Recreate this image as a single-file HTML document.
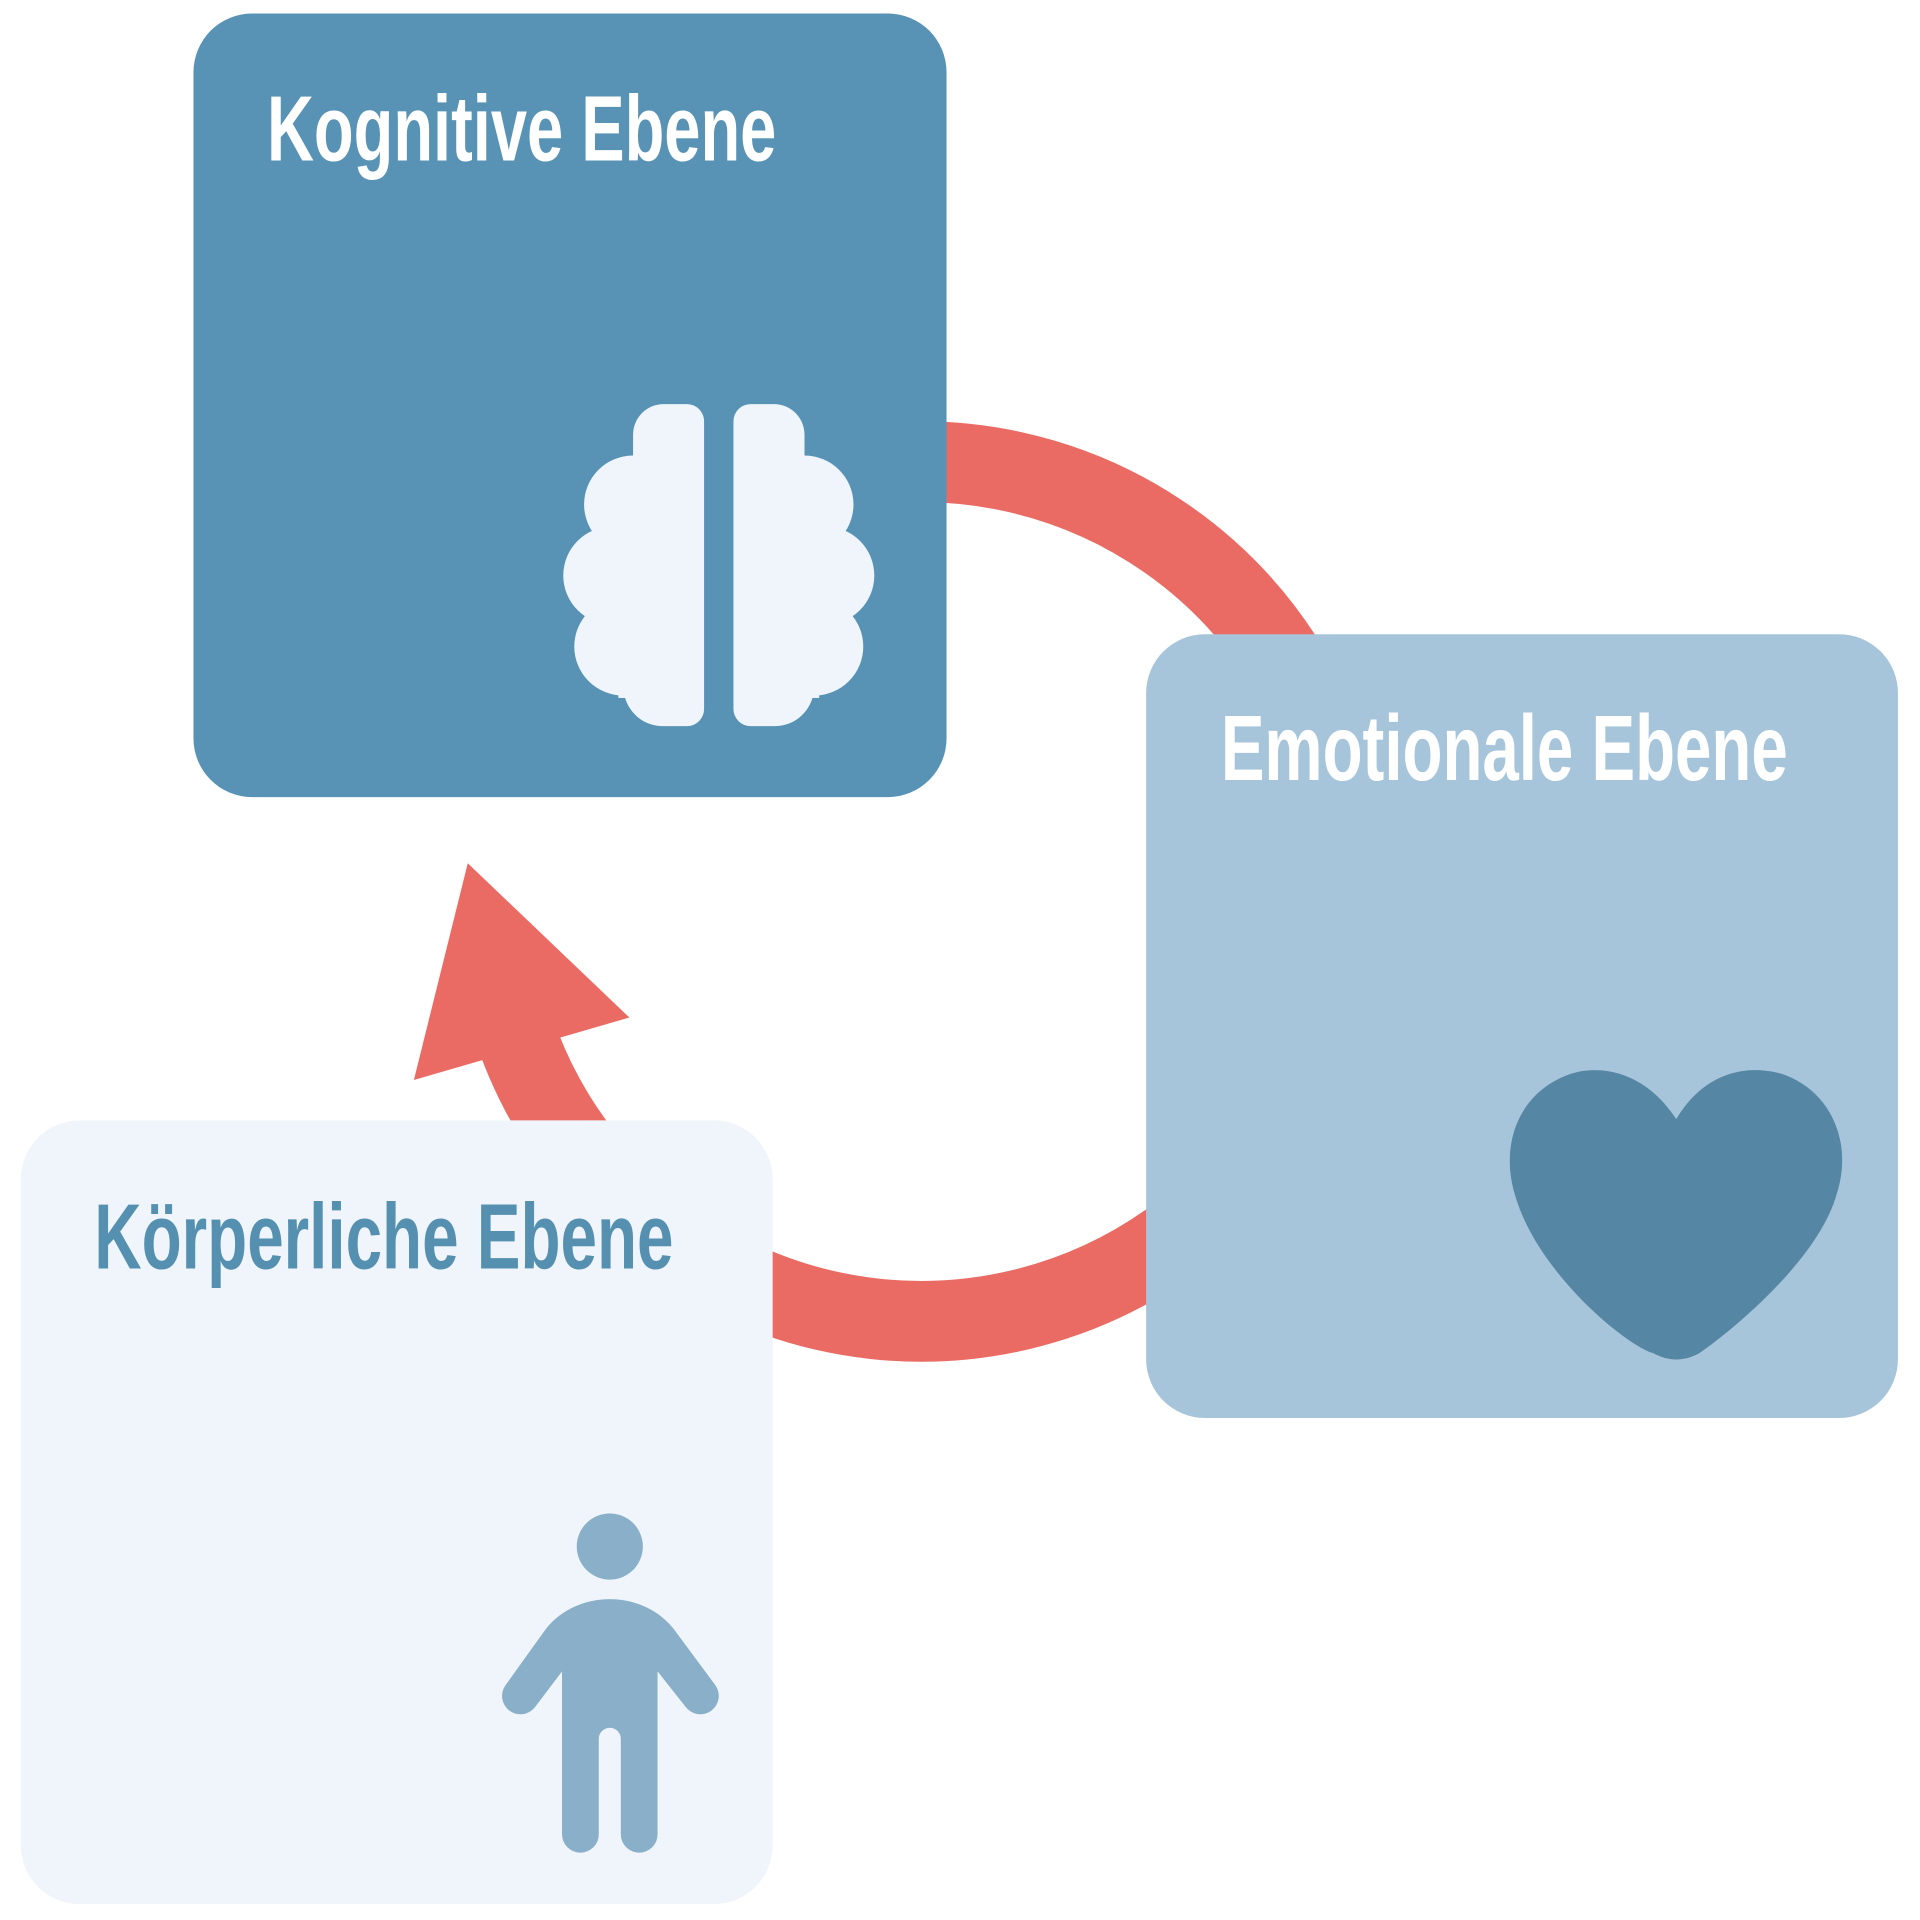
<!DOCTYPE html>
<html><head><meta charset="utf-8"><style>html,body{margin:0;padding:0;background:#fff}svg{display:block}</style></head>
<body>
<svg width="1920" height="1920" viewBox="0 0 1568 1568" xmlns="http://www.w3.org/2000/svg">
<rect width="1568" height="1568" fill="#fff"/>
<path d="M 700 381 A 351 351 0 1 1 418 835" fill="none" stroke="#e96b63" stroke-width="66"/>
<polygon points="382,705 514,831 338,882" fill="#e96b63"/>
<rect x="158" y="11" width="615" height="640" rx="48" fill="#5893b5"/>
<rect x="936" y="518" width="614" height="640" rx="48" fill="#a7c5da"/>
<rect x="17" y="915" width="614" height="640" rx="48" fill="#eff5fb"/>
<g font-family="Liberation Sans, sans-serif" font-size="76" font-weight="bold">
<text x="218" y="131" fill="#fff" textLength="416" lengthAdjust="spacingAndGlyphs">Kognitive Ebene</text>
<text x="997" y="637" fill="#fff" textLength="463" lengthAdjust="spacingAndGlyphs">Emotionale Ebene</text>
<text x="77" y="1036" fill="#5590b0" textLength="473" lengthAdjust="spacingAndGlyphs">Körperliche Ebene</text>
</g>
<g fill="#eff5fb" id="lb">
<path d="M 517 355 A 25 25 0 0 1 542 330 L 561 330 A 14 14 0 0 1 575 344 L 575 579 A 14 14 0 0 1 561 593 L 542 593 A 32 32 0 0 1 510 568 L 517 568 Z"/>
<circle cx="517" cy="412" r="40"/>
<circle cx="500" cy="470" r="40"/>
<circle cx="509" cy="528" r="40"/>
<rect x="505" y="400" width="30" height="170"/>
</g>
<use href="#lb" transform="translate(1174,0) scale(-1,1)"/>
<path d="M 1369 914 C 1340 870 1300 870 1280 878 C 1240 893 1225 935 1237 975 C 1255 1040 1330 1100 1350 1105 C 1362 1112 1376 1112 1388 1105 C 1410 1090 1485 1030 1500 975 C 1513 935 1497 893 1458 878 C 1435 870 1395 870 1369 914 Z" fill="#5586a4"/>
<g fill="#89b0c8">
<circle cx="498" cy="1263" r="27"/>
<path d="M 446 1330 C 472 1298 524 1298 550 1330 L 584 1376 A 14 14 0 0 1 560 1394 L 537 1365 L 537 1498 A 15 15 0 0 1 507 1498 L 507 1420 A 9 9 0 0 0 489 1420 L 489 1498 A 15 15 0 0 1 459 1498 L 459 1365 L 437 1394 A 14 14 0 0 1 413 1376 Z"/>
</g>
</svg>
</body></html>
